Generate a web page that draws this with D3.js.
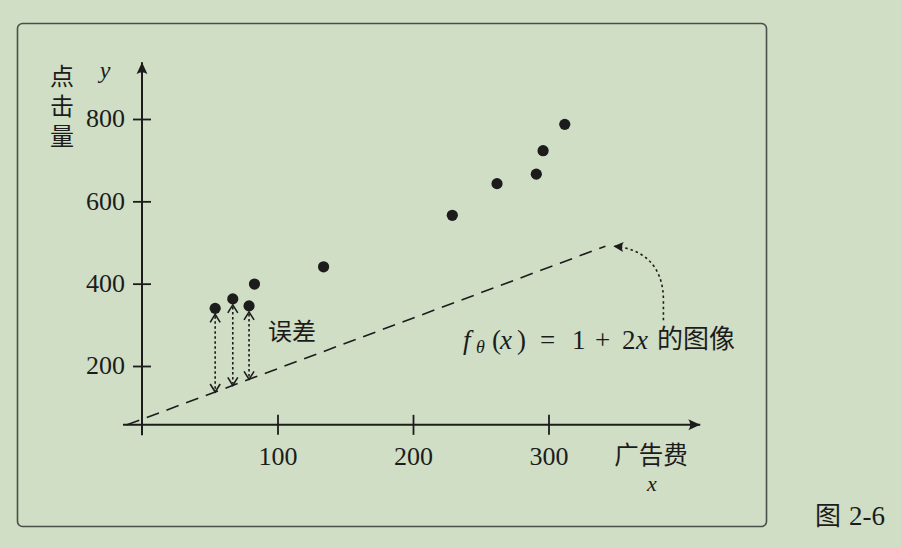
<!DOCTYPE html>
<html><head><meta charset="utf-8">
<script src="https://cdn.jsdelivr.net/npm/d3@7"></script>
<style>
body{margin:0;background:#cfdec4;}
svg{display:block}
</style>
</head><body>
<svg id="c" width="901" height="548"></svg>
<script>
// ---- data ----
const adSpend = [54, 67, 79, 83, 134, 229, 262, 291, 296, 312];
const clicks  = [340, 363, 346, 399, 441, 566, 643, 666, 723, 787];
const errorIdx = [0, 1, 2];
const xTicks = [100, 200, 300];
const yTicks = [200, 400, 600, 800];
// drawn (schematic) model line f(x)=1+2x : endpoints
const lineX = [-11, 342];
const lineY = [57, 491];
const xAxisRange = [-14, 412];
const yAxisRange = [32, 938];
const xAxisAtY = 57;
const xLabel = "广告费", yLabel = "点击量", errLabel = "误差", caption = "图 2-6";

// ---- layout ----
const svg = d3.select("#c");
const ink = "#1c1c1c";
const serif = "'Liberation Serif','DejaVu Serif',serif";
const cjk = "'Noto Sans CJK SC','Noto Sans CJK JP',sans-serif";

const x = d3.scaleLinear().domain([0, 300]).range([142, 548.5]);
const y = d3.scaleLinear().domain([200, 800]).range([366, 119]);

// frame
svg.append("rect").attr("x", 17.5).attr("y", 23.5).attr("width", 749).attr("height", 503)
  .attr("rx", 5).attr("fill", "none").attr("stroke", "#4a4f4a").attr("stroke-width", 1.6);

// arrowhead markers
const defs = svg.append("defs");
defs.append("marker").attr("id", "ah").attr("viewBox", "-12 -6 14 12")
  .attr("refX", 0).attr("refY", 0).attr("markerWidth", 14).attr("markerHeight", 12)
  .attr("markerUnits", "userSpaceOnUse").attr("orient", "auto")
  .append("path").attr("d", "M0,0 L-12,-5.5 Q-8,0 -12,5.5 Z").attr("fill", ink);
defs.append("marker").attr("id", "ah2").attr("viewBox", "-11 -6 13 12")
  .attr("refX", 0).attr("refY", 0).attr("markerWidth", 13).attr("markerHeight", 12)
  .attr("markerUnits", "userSpaceOnUse").attr("orient", "auto")
  .append("path").attr("d", "M0,0 L-10,-5 Q-7,0 -10,5 Z").attr("fill", ink);

// axes lines
svg.append("line").attr("x1", x(xAxisRange[0])).attr("x2", x(xAxisRange[1]))
  .attr("y1", y(xAxisAtY)).attr("y2", y(xAxisAtY))
  .attr("stroke", ink).attr("stroke-width", 2).attr("marker-end", "url(#ah)");
svg.append("line").attr("x1", x(0)).attr("x2", x(0))
  .attr("y1", y(yAxisRange[0])).attr("y2", y(yAxisRange[1]))
  .attr("stroke", ink).attr("stroke-width", 2).attr("marker-end", "url(#ah)");

// y axis ticks + labels
const gy = svg.append("g").attr("transform", `translate(${x(0)},0)`)
  .call(d3.axisLeft(y).tickValues(yTicks).tickSize(9).tickPadding(8).tickSizeOuter(0));
gy.select(".domain").remove();
gy.selectAll(".tick line").attr("x1", 9).attr("stroke", ink).attr("stroke-width", 1.8);
gy.selectAll(".tick text").attr("font-family", serif).attr("font-size", 26).attr("fill", ink)
  .attr("dy", "0.3em");

// x axis ticks + labels
const gx = svg.append("g").attr("transform", `translate(0,${y(xAxisAtY)})`)
  .call(d3.axisBottom(x).tickValues(xTicks).tickSize(10).tickSizeOuter(0));
gx.select(".domain").remove();
gx.selectAll(".tick line").attr("y1", -10).attr("stroke", ink).attr("stroke-width", 1.8);
gx.selectAll(".tick text").attr("font-family", serif).attr("font-size", 26).attr("fill", ink)
  .attr("y", 40).attr("dy", 0);

// axis titles
svg.append("text").attr("x", 62).attr("y", 64).attr("font-family", cjk).attr("font-size", 24)
  .attr("fill", ink).style("writing-mode", "vertical-rl").style("letter-spacing", "6px")
  .text(yLabel);
svg.append("text").attr("x", x(0) - 37).attr("y", 78).attr("font-family", serif)
  .attr("font-style", "italic").attr("font-size", 24).attr("fill", ink).attr("text-anchor", "middle").text("y");
const xt = svg.append("text").attr("font-family", cjk).attr("font-size", 24.5)
  .attr("fill", ink).attr("text-anchor", "middle");
xt.append("tspan").attr("x", 651).attr("y", 464).text(xLabel);
xt.append("tspan").attr("x", 652).attr("y", 491).attr("font-family", serif).attr("font-style", "italic")
  .attr("font-size", 22).text("x");

// model line
const lineAt = v => lineY[0] + (lineY[1] - lineY[0]) * (v - lineX[0]) / (lineX[1] - lineX[0]);
svg.append("line").attr("x1", x(lineX[0])).attr("y1", y(lineY[0]))
  .attr("x2", x(lineX[1])).attr("y2", y(lineY[1]))
  .attr("stroke", ink).attr("stroke-width", 1.6).attr("stroke-dasharray", "13,8");

// error arrows
const vHead = (px, py, dir) => `M${px - 5},${py - dir * 8} L${px},${py} L${px + 5},${py - dir * 8}`;
errorIdx.forEach(i => {
  const px = x(adSpend[i]);
  const top = y(clicks[i]) + 6;
  const bot = y(lineAt(adSpend[i]));
  svg.append("line").attr("x1", px).attr("x2", px).attr("y1", top + 2).attr("y2", bot - 2)
    .attr("stroke", ink).attr("stroke-width", 1.6).attr("stroke-dasharray", "2.5,2.5");
  svg.append("path").attr("d", vHead(px, top, -1)).attr("fill", "none").attr("stroke", ink).attr("stroke-width", 1.6);
  svg.append("path").attr("d", vHead(px, bot, 1)).attr("fill", "none").attr("stroke", ink).attr("stroke-width", 1.6);
});

// points
svg.append("g").selectAll("circle").data(adSpend).join("circle")
  .attr("cx", d => x(d)).attr("cy", (d, i) => y(clicks[i])).attr("r", 5.6).attr("fill", ink);

// error label
svg.append("text").attr("x", 292).attr("y", 340).attr("font-family", cjk).attr("font-size", 24)
  .attr("fill", ink).attr("text-anchor", "middle").text(errLabel);

// annotation curve (dotted) to the end of the model line
const tipX = x(lineX[1]) + 6, tipY = y(lineY[1]);
const startX = tipX + 52, startY = tipY + 74;
svg.append("path")
  .attr("d", `M${startX},${startY} L${startX},${startY - 20} C${startX},${tipY + 18} ${startX - 22},${tipY + 2} ${tipX + 2},${tipY}`)
  .attr("fill", "none").attr("stroke", ink).attr("stroke-width", 1.6).attr("stroke-dasharray", "2.5,3")
  .attr("marker-end", "url(#ah2)");

// formula label  f_θ(x) = 1 + 2x 的图像
const fx0 = 463, fy0 = 349;
const ft = svg.append("text").attr("y", fy0).attr("font-family", serif)
  .attr("font-size", 27).attr("fill", ink);
const parts = [
  ["f", 0, true, 27, 0, serif], ["θ", 13, true, 18, 4, serif], ["(", 29, false, 27, 0, serif],
  ["x", 37, true, 27, 0, serif], [")", 54, false, 27, 0, serif], ["=", 77, false, 27, 0, serif],
  ["1", 109, false, 27, 0, serif], ["+", 132, false, 27, 0, serif], ["2", 159, false, 27, 0, serif],
  ["x", 173, true, 27, 0, serif], ["的图像", 194, false, 26, -1, cjk]
];
parts.forEach(([t, dx, it, fs, sub, fam]) => {
  ft.append("tspan").attr("x", fx0 + dx).attr("y", fy0 + sub).attr("font-style", it ? "italic" : "normal")
    .attr("font-family", fam).attr("font-size", fs).text(t);
});

// caption
svg.append("text").attr("x", 850).attr("y", 525).attr("font-family", serif).attr("font-size", 27)
  .attr("fill", ink).attr("text-anchor", "middle")
  .call(t => {
    t.append("tspan").attr("font-family", cjk).attr("font-size", 26).text(caption.split(" ")[0]);
    t.append("tspan").attr("dx", 8).text(caption.split(" ")[1]);
  });
</script>
</body></html>
